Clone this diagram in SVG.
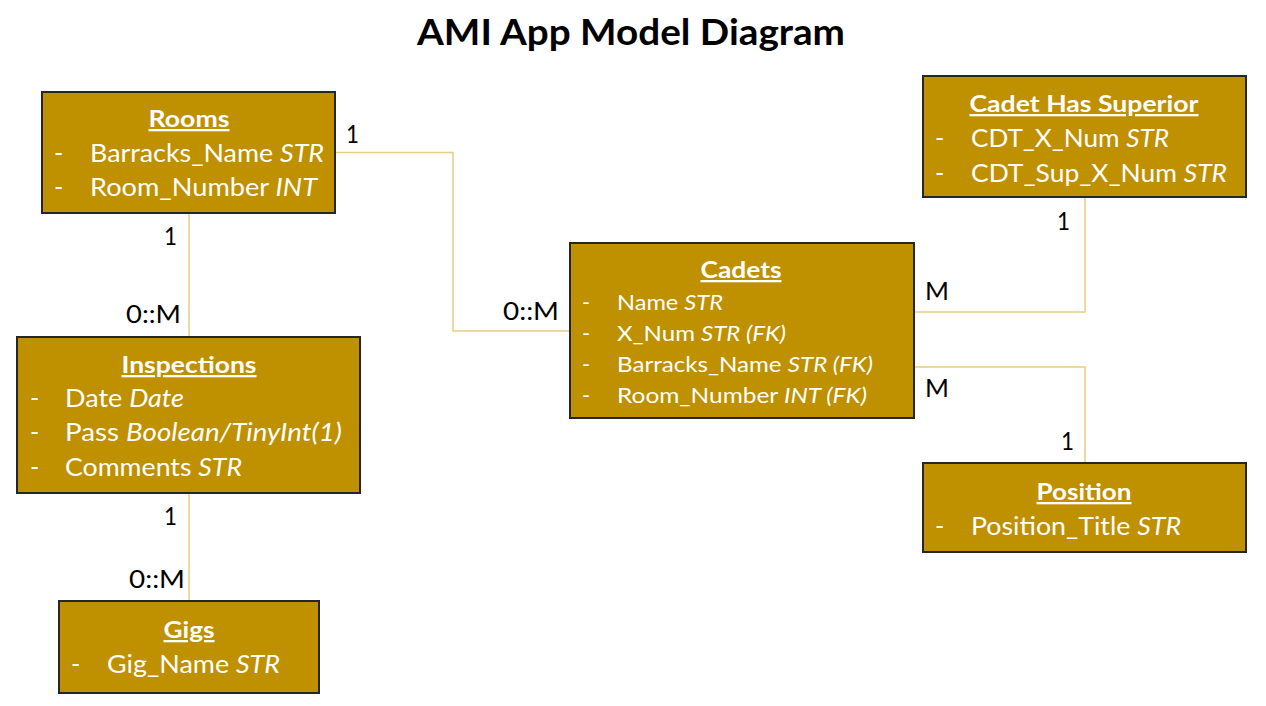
<svg xmlns="http://www.w3.org/2000/svg" width="1266" height="706" viewBox="0 0 1266 706">
<style>
.box{fill:#BF9000;stroke:#262626;stroke-width:2}
.t{font-family:Lato,"Open Sans","Liberation Sans",sans-serif;font-size:25px;fill:#FFFFFF}
.s{font-size:22px}
.h{font-family:Lato,"Open Sans","Liberation Sans",sans-serif;font-size:23px;font-weight:bold;fill:#FFFFFF;text-anchor:middle;text-decoration:underline}
.i{font-style:italic}
.lbl{font-family:Lato,"Open Sans","Liberation Sans",sans-serif;font-size:25px;fill:#000000}
.c{fill:none;stroke:#E8CC84;stroke-width:1.5}
.title{font-family:Lato,"Open Sans","Liberation Sans",sans-serif;font-size:37px;font-weight:bold;fill:#000000;text-anchor:middle}
</style>
<rect width="1266" height="706" fill="#FFFFFF"/>
<text class="title" x="631" y="45" textLength="428" lengthAdjust="spacingAndGlyphs">AMI App Model Diagram</text>
<g id="connectors">
<polyline class="c" points="335,152.5 453,152.5 453,331 570,331"/>
<line class="c" x1="189" y1="213" x2="189" y2="337"/>
<line class="c" x1="189" y1="493" x2="189" y2="601"/>
<polyline class="c" points="914,312 1085,312 1085,197"/>
<polyline class="c" points="914,367 1085,367 1085,463"/>
<text class="lbl" x="346" y="143" textLength="13" lengthAdjust="spacingAndGlyphs">1</text>
<text class="lbl" x="503" y="320" textLength="56" lengthAdjust="spacingAndGlyphs">0::M</text>
<text class="lbl" x="164" y="245" textLength="13" lengthAdjust="spacingAndGlyphs">1</text>
<text class="lbl" x="126" y="323" textLength="55" lengthAdjust="spacingAndGlyphs">0::M</text>
<text class="lbl" x="164" y="525" textLength="13" lengthAdjust="spacingAndGlyphs">1</text>
<text class="lbl" x="129" y="588" textLength="56" lengthAdjust="spacingAndGlyphs">0::M</text>
<text class="lbl" x="925" y="300" textLength="24" lengthAdjust="spacingAndGlyphs">M</text>
<text class="lbl" x="1057" y="230" textLength="13" lengthAdjust="spacingAndGlyphs">1</text>
<text class="lbl" x="925" y="397" textLength="24" lengthAdjust="spacingAndGlyphs">M</text>
<text class="lbl" x="1061" y="450" textLength="13" lengthAdjust="spacingAndGlyphs">1</text>
</g>
<g id="rooms">
<rect class="box" x="42" y="92" width="293" height="121"/>
<text class="h" x="189" y="127" textLength="81" lengthAdjust="spacingAndGlyphs">Rooms</text>
<text class="t" x="54" y="162">-</text>
<text class="t" x="90" y="162" textLength="234" lengthAdjust="spacingAndGlyphs">Barracks_Name <tspan class="i">STR</tspan></text>
<text class="t" x="54" y="196">-</text>
<text class="t" x="90" y="196" textLength="227" lengthAdjust="spacingAndGlyphs">Room_Number <tspan class="i">INT</tspan></text>
</g>
<g id="inspections">
<rect class="box" x="17" y="337" width="343" height="156"/>
<text class="h" x="189" y="373" textLength="135" lengthAdjust="spacingAndGlyphs">Inspections</text>
<text class="t" x="30" y="407">-</text>
<text class="t" x="65" y="407" textLength="119" lengthAdjust="spacingAndGlyphs">Date <tspan class="i">Date</tspan></text>
<text class="t" x="30" y="441">-</text>
<text class="t" x="65" y="441" textLength="277" lengthAdjust="spacingAndGlyphs">Pass <tspan class="i">Boolean/TinyInt(1)</tspan></text>
<text class="t" x="30" y="476">-</text>
<text class="t" x="65" y="476" textLength="177" lengthAdjust="spacingAndGlyphs">Comments <tspan class="i">STR</tspan></text>
</g>
<g id="gigs">
<rect class="box" x="59" y="601" width="260" height="92"/>
<text class="h" x="189" y="638" textLength="51" lengthAdjust="spacingAndGlyphs">Gigs</text>
<text class="t" x="71" y="673">-</text>
<text class="t" x="107" y="673" textLength="173" lengthAdjust="spacingAndGlyphs">Gig_Name <tspan class="i">STR</tspan></text>
</g>
<g id="cadets">
<rect class="box" x="570" y="243" width="344" height="175"/>
<text class="h" x="741" y="278" textLength="81" lengthAdjust="spacingAndGlyphs">Cadets</text>
<text class="t s" x="582" y="310">-</text>
<text class="t s" x="617" y="310" textLength="106" lengthAdjust="spacingAndGlyphs">Name <tspan class="i">STR</tspan></text>
<text class="t s" x="582" y="341">-</text>
<text class="t s" x="617" y="341" textLength="169" lengthAdjust="spacingAndGlyphs">X_Num <tspan class="i">STR (FK)</tspan></text>
<text class="t s" x="582" y="372">-</text>
<text class="t s" x="617" y="372" textLength="256" lengthAdjust="spacingAndGlyphs">Barracks_Name <tspan class="i">STR (FK)</tspan></text>
<text class="t s" x="582" y="403">-</text>
<text class="t s" x="617" y="403" textLength="250" lengthAdjust="spacingAndGlyphs">Room_Number <tspan class="i">INT (FK)</tspan></text>
</g>
<g id="cadet-has-superior">
<rect class="box" x="923" y="76" width="323" height="121"/>
<text class="h" x="1084" y="112" textLength="229" lengthAdjust="spacingAndGlyphs">Cadet Has Superior</text>
<text class="t" x="935" y="147">-</text>
<text class="t" x="971" y="147" textLength="198" lengthAdjust="spacingAndGlyphs">CDT_X_Num <tspan class="i">STR</tspan></text>
<text class="t" x="935" y="182">-</text>
<text class="t" x="971" y="182" textLength="256" lengthAdjust="spacingAndGlyphs">CDT_Sup_X_Num <tspan class="i">STR</tspan></text>
</g>
<g id="position">
<rect class="box" x="923" y="463" width="323" height="89"/>
<text class="h" x="1084" y="500" textLength="95" lengthAdjust="spacingAndGlyphs">Position</text>
<text class="t" x="935" y="535">-</text>
<text class="t" x="971" y="535" textLength="210" lengthAdjust="spacingAndGlyphs">Position_Title <tspan class="i">STR</tspan></text>
</g>
</svg>
